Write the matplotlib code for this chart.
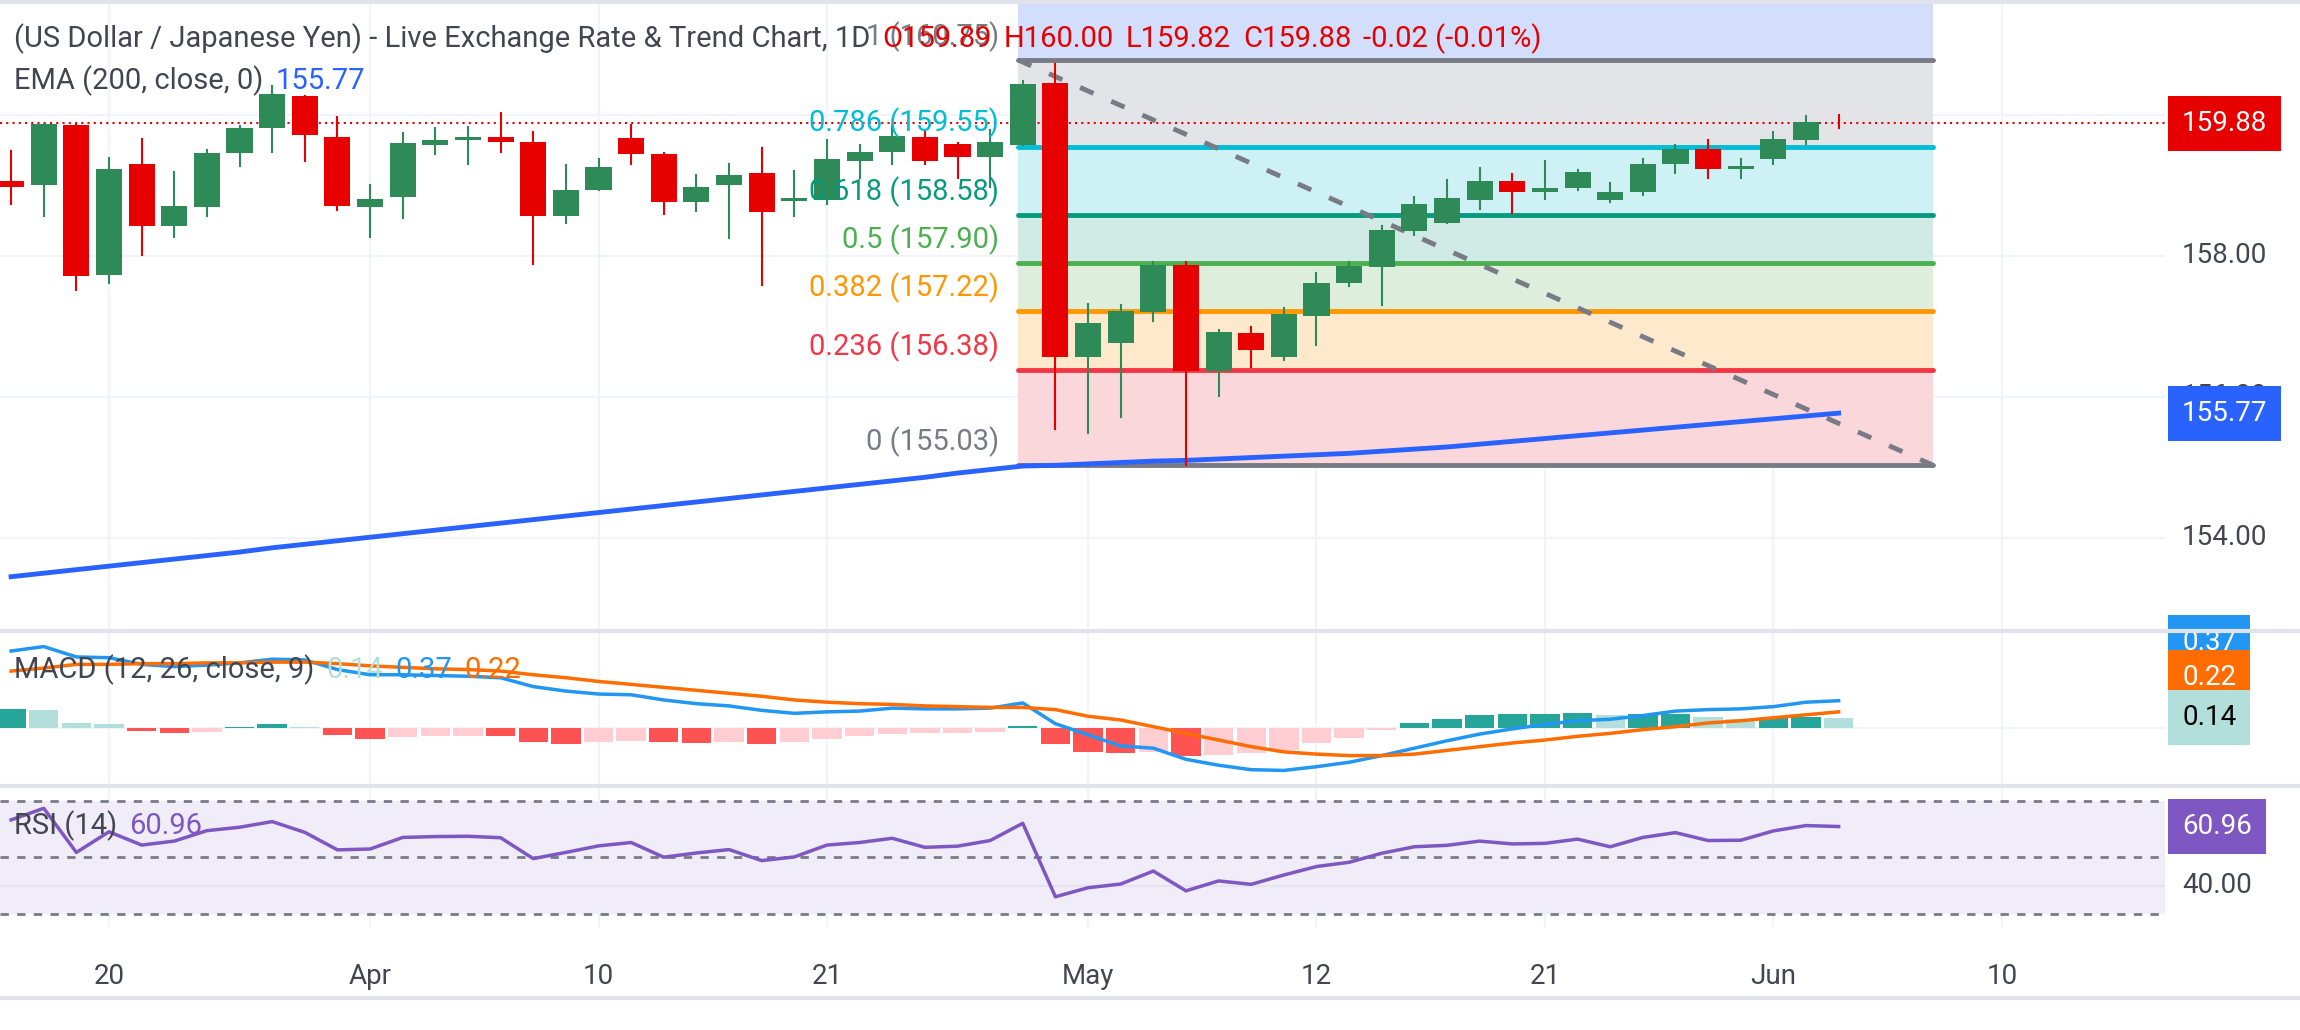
import matplotlib
matplotlib.use("Agg")
import matplotlib.pyplot as plt
import matplotlib.transforms as mtrans
import numpy as np

plt.rcParams['font.family'] = ['Roboto', 'DejaVu Sans']

# ---------------- data ----------------
opens  = [159.06,159.00,159.86,157.73,159.30,158.43,158.70,159.46,159.81,160.27,
          159.69,158.70,158.83,159.58,159.64,159.69,159.62,158.56,158.94,159.67,
          159.45,158.77,159.00,159.18,158.78,158.79,159.34,159.48,159.69,159.59,
          159.41,159.57,160.45,156.56,156.77,157.21,157.87,156.37,156.91,156.56,
          157.15,157.61,157.85,158.36,158.46,158.80,159.06,158.90,158.96,158.80,
          158.90,159.30,159.52,159.24,159.38,159.65,159.89]
highs  = [159.49,159.87,159.86,159.39,159.66,159.19,159.50,159.84,160.41,160.27,
          159.97,159.01,159.74,159.82,159.83,160.03,159.76,159.29,159.38,159.86,
          159.46,159.15,159.30,159.53,159.21,159.65,159.57,159.84,159.79,159.60,
          159.79,160.48,160.72,157.32,157.30,157.91,157.92,156.95,156.99,157.26,
          157.76,157.92,158.43,158.84,159.08,159.25,159.16,159.35,159.22,159.04,
          159.38,159.57,159.65,159.38,159.76,159.99,160.00]
lows   = [158.73,158.57,157.51,157.62,158.01,158.27,158.57,159.28,159.47,159.34,
          158.65,158.27,158.54,159.44,159.31,159.48,157.89,158.47,158.93,159.30,
          158.60,158.64,158.26,157.59,158.56,158.73,159.11,159.30,159.31,159.10,
          158.98,159.57,155.55,155.49,155.71,157.08,155.03,156.02,156.43,156.52,
          156.73,157.57,157.31,158.29,158.46,158.66,158.61,158.81,158.93,158.76,
          158.86,159.18,159.11,159.10,159.31,159.59,159.82]
closes = [158.98,159.87,157.71,159.23,158.43,158.71,159.46,159.82,160.30,159.71,
          158.71,158.81,159.60,159.65,159.69,159.61,158.56,158.94,159.26,159.44,
          158.77,158.98,159.15,158.63,158.82,159.38,159.48,159.70,159.35,159.41,
          159.62,160.44,156.57,157.05,157.22,157.87,156.37,156.92,156.66,157.18,
          157.62,157.86,158.37,158.74,158.82,159.06,158.91,158.96,159.19,158.91,
          159.30,159.52,159.24,159.28,159.66,159.90,159.88]
ema200 = [153.45,153.50,153.55,153.60,153.65,153.70,153.75,153.80,153.86,153.91,
          153.96,154.01,154.06,154.11,154.16,154.21,154.26,154.31,154.36,154.41,
          154.46,154.51,154.56,154.61,154.66,154.71,154.76,154.81,154.86,154.92,
          154.97,155.02,155.03,155.05,155.07,155.09,155.10,155.12,155.14,155.16,
          155.18,155.20,155.23,155.26,155.29,155.33,155.37,155.41,155.45,155.49,
          155.53,155.57,155.61,155.65,155.69,155.73,155.77]
macd   = [1.04,1.10,0.96,0.95,0.86,0.83,0.85,0.88,0.93,0.92,
          0.79,0.72,0.72,0.71,0.70,0.68,0.56,0.50,0.46,0.45,
          0.38,0.33,0.30,0.24,0.20,0.22,0.23,0.27,0.26,0.26,
          0.27,0.34,0.06,-0.09,-0.24,-0.27,-0.42,-0.50,-0.56,-0.57,
          -0.52,-0.46,-0.37,-0.27,-0.17,-0.08,-0.01,0.05,0.10,0.12,
          0.17,0.23,0.25,0.26,0.29,0.35,0.37]
signal = [0.77,0.81,0.86,0.86,0.87,0.87,0.88,0.88,0.89,0.89,
          0.87,0.84,0.82,0.80,0.79,0.77,0.72,0.68,0.63,0.59,
          0.55,0.51,0.47,0.43,0.38,0.35,0.33,0.32,0.30,0.29,
          0.28,0.28,0.25,0.16,0.11,0.02,-0.07,-0.16,-0.25,-0.32,
          -0.35,-0.37,-0.37,-0.35,-0.30,-0.25,-0.20,-0.16,-0.11,-0.07,
          -0.02,0.02,0.07,0.10,0.14,0.18,0.22]
hist   = [0.26,0.25,0.07,0.05,-0.04,-0.06,-0.05,0.01,0.05,0.02,
          -0.09,-0.14,-0.12,-0.11,-0.10,-0.11,-0.18,-0.21,-0.19,-0.17,
          -0.19,-0.195,-0.18,-0.21,-0.19,-0.15,-0.11,-0.08,-0.07,-0.06,
          -0.05,0.03,-0.21,-0.32,-0.34,-0.32,-0.37,-0.36,-0.34,-0.29,
          -0.20,-0.13,-0.03,0.07,0.13,0.18,0.19,0.195,0.20,0.18,
          0.185,0.19,0.15,0.12,0.14,0.145,0.14]
rsi    = [63.3,67.4,51.8,59.1,54.4,55.8,59.5,60.7,62.7,58.9,
          52.7,53.0,57.1,57.4,57.5,57.0,49.6,51.8,54.1,55.3,
          50.1,51.6,52.8,48.9,50.2,54.4,55.3,56.8,53.6,54.0,
          56.0,62.1,36.1,39.3,40.6,45.2,38.2,41.7,40.5,43.8,
          46.8,48.3,51.5,53.8,54.3,55.8,54.8,55.0,56.5,53.8,
          57.1,58.8,56.0,56.1,59.4,61.3,60.96]
tick_pos = [3, 11, 18, 25, 33, 40, 47, 54, 61]
tick_labels = ["20", "Apr", "10", "21", "May", "12", "21", "Jun", "10"]
price_ticks = [154, 156, 158, 160]
fib_ratios = [1, 0.786, 0.618, 0.5, 0.382, 0.236, 0]
fib_prices = [160.78, 159.55, 158.58, 157.90, 157.22, 156.38, 155.03]
fib_label_vals = ["160.75", "159.55", "158.58", "157.90", "157.22", "156.38", "155.03"]
fib_start, fib_end = 30.85, 58.9
trend_x = [30.85, 58.9]
trend_y = [160.78, 155.03]

# ---------------- style ----------------
W, H = 2300, 1030
fig = plt.figure(figsize=(W/100, H/100), dpi=100)
fig.patch.set_facecolor("white")
RIGHT = 2165
GREEN, RED = "#2e8b57", "#e60000"
TXT = "#434651"
FS = 21

def ax_px(top, bottom):
    return fig.add_axes([0, 1 - bottom/H, RIGHT/W, (bottom - top)/H])

axp = ax_px(0, 631)
axm = ax_px(631, 786)
axr = ax_px(786, 927)
XL = (-0.34, 66.0)
for a in (axp, axm, axr):
    a.set_xlim(*XL)
    for s in a.spines.values():
        s.set_visible(False)
    a.set_xticks(tick_pos)
    a.tick_params(length=0, labelbottom=False, labelleft=False)
    a.set_yticks([])
    for t in tick_pos:
        a.axvline(t, color="#f0f3fa", lw=1.5, zorder=0)

n = len(opens)
x = np.arange(n)

# ---------- price pane ----------
axp.set_ylim(152.68, 161.63)
for p in price_ticks:
    axp.axhline(p, color="#f0f3fa", lw=1.5, zorder=0)

fib_fill = ["#e3e4e8", "#cdf1f4", "#d0eae5", "#ddefdc", "#ffe9cc", "#fad7db"]
fib_line = ["#787b86", "#00bcd4", "#089981", "#4caf50", "#ff9800", "#f23645", "#787b86"]
axp.fill_between([fib_start, fib_end], fib_prices[0], 161.63, color="#d3defc", lw=0, zorder=1)
for k in range(6):
    axp.fill_between([fib_start, fib_end], fib_prices[k+1], fib_prices[k],
                     color=fib_fill[k], lw=0, zorder=1)
for k in range(7):
    axp.plot([fib_start, fib_end], [fib_prices[k]]*2, color=fib_line[k], lw=3.5,
             zorder=2, solid_capstyle="round")
    lab = f"{fib_ratios[k]} ({fib_label_vals[k]})"
    axp.annotate(lab, (30.27, fib_prices[k]), xytext=(0, 6), textcoords="offset points",
                 ha="right", va="bottom", fontsize=FS, color=fib_line[k], zorder=6)

axp.plot(trend_x, trend_y, color="#787b86", lw=3.5, ls=(0, (3, 4)), zorder=3)
axp.plot(x, ema200, color="#2962ff", lw=3.5, zorder=4)

for i in range(n):
    o, h, l, c = opens[i], highs[i], lows[i], closes[i]
    col = GREEN if c >= o else RED
    axp.plot([i, i], [l, h], color=col, lw=1.5, zorder=5)
    lo, hi = min(o, c), max(o, c)
    axp.add_patch(plt.Rectangle((i - 0.4, lo), 0.8, max(hi - lo, 0.012), color=col, lw=0, zorder=5))

axp.axhline(closes[-1], color=RED, lw=1.5, ls=(0, (1, 2)), zorder=4)

# ---------- MACD pane ----------
axm.set_ylim(-0.78, 1.31)
axm.axhline(0, color="#f0f3fa", lw=1.5, zorder=0)
hcols = []
for i, v in enumerate(hist):
    prev = hist[i-1] if i > 0 else v
    if v >= 0:
        hcols.append("#26a69a" if v >= prev else "#b2dfdb")
    else:
        hcols.append("#ffcdd2" if v >= prev else "#ff5252")
axm.bar(x, hist, width=0.9, color=hcols, zorder=2)
axm.plot(x, macd, color="#2196f3", lw=2.5, zorder=3)
axm.plot(x, signal, color="#ff6d00", lw=2.5, zorder=3)

# ---------- RSI pane ----------
axr.set_ylim(25.4, 75.3)
axr.axhspan(30, 70, color="#f0ecf8", lw=0, zorder=0)
for lv in (70, 50, 30):
    axr.axhline(lv, color="#787b86", lw=2, ls=(0, (3, 3)), zorder=1)
axr.axhline(40, color="#e6e3ee", lw=1.5, zorder=1)
axr.plot(x, rsi, color="#7e57c2", lw=2.5, zorder=3)
axr.tick_params(labelbottom=True, pad=26, labelsize=20, labelcolor=TXT)
axr.set_xticklabels(tick_labels)

# ---------- separators ----------
for yy in (2, 631, 786, 998):
    fig.add_artist(plt.Line2D([0, 1], [1 - yy/H]*2, color="#e0e3eb", lw=3, transform=fig.transFigure))

# ---------- right axis labels ----------
def rlabel(ax, val, s, fc=None, tc=TXT):
    tr = mtrans.blended_transform_factory(fig.transFigure, ax.transData)
    kw = {}
    if fc:
        kw["bbox"] = dict(boxstyle="square,pad=0.5", fc=fc, ec="none")
    ax.text(2182/W, val, s, transform=tr, ha="left", va="center", fontsize=20,
            color=tc, clip_on=False, **kw)

rlabel(axp, 154, "154.00")
rlabel(axp, 158, "158.00")
rlabel(axp, 156, "156.00")
rlabel(axp, closes[-1], f"{closes[-1]:.2f}", fc=RED, tc="white")
rlabel(axp, ema200[-1], f"{ema200[-1]:.2f}", fc="#2962ff", tc="white")
rlabel(axm, 0.0, "0.00")
rlabel(axm, 1.15, f"{macd[-1]:.2f}", fc="#2196f3", tc="white")
rlabel(axm, 0.68, f"{signal[-1]:.2f}", fc="#ff6d00", tc="white")
rlabel(axm, hist[-1], f"{hist[-1]:.2f}", fc="#b2dfdb", tc="black")
rlabel(axr, 40, "40.00")
rlabel(axr, rsi[-1], f"{rsi[-1]:.2f}", fc="#7e57c2", tc="white")

# ---------- legends ----------
renderer = fig.canvas.get_renderer()
def chain(xpx, ypx, parts, size=FS, gap=12):
    xx = xpx
    for s, col in parts:
        t = fig.text(xx/W, 1 - ypx/H, s, fontsize=size, color=col, ha="left", va="center")
        bb = t.get_window_extent(renderer)
        xx = bb.x1 + gap

chain(14, 39, [("(US Dollar / Japanese Yen) - Live Exchange Rate & Trend Chart, 1D", TXT),
               ("O159.89", RED), ("H160.00", RED), ("L159.82", RED), ("C159.88", RED),
               ("-0.02 (-0.01%)", RED)])
chain(14, 81, [("EMA (200, close, 0)", TXT), ("155.77", "#2962ff")])
chain(14, 670, [("MACD (12, 26, close, 9)", TXT), (f"{hist[-1]:.2f}", "#b2dfdb"),
                (f"{macd[-1]:.2f}", "#2196f3"), (f"{signal[-1]:.2f}", "#ff6d00")])
chain(14, 826, [("RSI (14)", TXT), (f"{rsi[-1]:.2f}", "#7e57c2")])

fig.savefig("out.png", dpi=100, facecolor="white")
